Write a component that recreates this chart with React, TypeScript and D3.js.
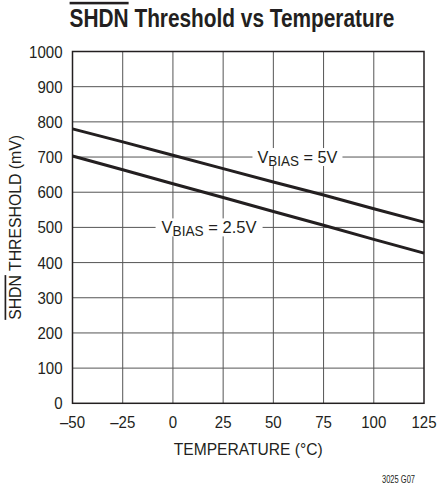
import * as React from 'react';
import { useEffect, useRef } from 'react';
import * as d3 from 'd3';

const temps = [-50, -25, 0, 25, 50, 75, 100, 125];
const vbias5 = [780, 743, 705, 667, 629, 592, 553, 515];
const vbias25 = [703, 664, 624, 585, 545, 506, 466, 427];
const xTicks = [-50, -25, 0, 25, 50, 75, 100, 125];
const yTicks = [0, 100, 200, 300, 400, 500, 600, 700, 800, 900, 1000];

const FONT = '"Liberation Sans", Arial, sans-serif';
const INK = '#231f20';

type Sel = d3.Selection<any, unknown, null, undefined>;

// text squeezed horizontally to look like a condensed face
function condText(parent: Sel, x: number, y: number, anchor: string, size: number, sx: number, weight = 'normal') {
  const g = parent.append('g').attr('transform', `translate(${x},${y}) scale(${sx},1)`);
  return g.append('text')
    .attr('x', 0).attr('y', 0)
    .attr('text-anchor', anchor)
    .attr('font-family', FONT).attr('font-size', size).attr('font-weight', weight)
    .attr('fill', INK);
}

// squeeze a text to a given width
function fitWidth(t: d3.Selection<SVGTextElement, unknown, null, undefined>, target: number) {
  const node = t.node();
  if (!node) return;
  const w = node.getComputedTextLength();
  const g = d3.select(node.parentNode as SVGGElement);
  const tr = g.attr('transform').replace(/scale\([^)]*\)/, '');
  g.attr('transform', `${tr} scale(${target / w},1)`);
}

export default function App() {
  const node = useRef<SVGSVGElement | null>(null);

  useEffect(() => {
    if (!node.current) return;
    const width = 440, height = 489;
    const left = 72.5, right = 424, top = 51.5, bottom = 403.3;

    const x = d3.scaleLinear().domain([-50, 125]).range([left, right]);
    const y = d3.scaleLinear().domain([0, 1000]).range([bottom, top]);

    const svg = d3.select(node.current);
    svg.selectAll('*').remove();
    svg.attr('width', width).attr('height', height).style('display', 'block');

    svg.append('rect').attr('width', width).attr('height', height).attr('fill', '#fff');

    // grid
    const grid = svg.append('g').attr('stroke', '#555').attr('stroke-width', 1);
    xTicks.slice(1, -1).forEach(t => {
      grid.append('line').attr('x1', x(t)).attr('x2', x(t)).attr('y1', top).attr('y2', bottom);
    });
    yTicks.slice(1, -1).forEach(t => {
      grid.append('line').attr('x1', left).attr('x2', right).attr('y1', y(t)).attr('y2', y(t));
    });

    // frame
    svg.append('rect')
      .attr('x', left).attr('y', top)
      .attr('width', right - left).attr('height', bottom - top)
      .attr('fill', 'none').attr('stroke', INK).attr('stroke-width', 1.5);

    // curves
    const lineF = d3.line<number>()
      .x((d, i) => x(temps[i]))
      .y(d => y(d));
    [vbias5, vbias25].forEach(s => {
      svg.append('path')
        .attr('d', lineF(s))
        .attr('fill', 'none')
        .attr('stroke', INK)
        .attr('stroke-width', 3);
    });

    // series labels with white knockout
    const labels = [
      { temp: 62, val: 700, sub: '= 5V', w: 90, tw: 80 },
      { temp: 18, val: 500, sub: '= 2.5V', w: 107, tw: 95 },
    ];
    labels.forEach(l => {
      const cx = x(l.temp), cy = y(l.val);
      svg.append('rect')
        .attr('x', cx - l.w / 2).attr('y', cy - 9)
        .attr('width', l.w).attr('height', 18)
        .attr('fill', '#fff');
      const t = condText(svg, cx, cy + 6, 'middle', 17, 0.9);
      t.append('tspan').text('V');
      t.append('tspan').attr('font-size', 14).attr('dy', 3).text('BIAS');
      t.append('tspan').attr('dy', -3).text(' ' + l.sub);
      fitWidth(t, l.tw);
    });

    // tick labels
    yTicks.forEach(d => {
      condText(svg, left - 10, y(d) + 6, 'end', 16.7, 0.9).text(String(d));
    });
    xTicks.forEach(d => {
      condText(svg, x(d), bottom + 25, 'middle', 16.7, 0.9)
        .text(d < 0 ? '\u2013' + Math.abs(d) : String(d));
    });

    // axis titles
    const xt = condText(svg, (left + right) / 2, bottom + 52, 'middle', 16.7, 0.9).text('TEMPERATURE (°C)');
    fitWidth(xt, 149);

    const yg = svg.append('g').attr('transform', `translate(21,${(top + bottom) / 2}) rotate(-90)`);
    const yt = condText(yg, 0, 0, 'middle', 16.7, 0.9);
    yt.append('tspan').attr('text-decoration', 'overline').text('SHDN');
    yt.append('tspan').text(' THRESHOLD (mV)');
    fitWidth(yt, 185);

    // title
    const tt = condText(svg, 232, 27, 'middle', 25.5, 0.85, 'bold');
    tt.append('tspan').attr('text-decoration', 'overline').text('SHDN');
    tt.append('tspan').text(' Threshold vs Temperature');
    fitWidth(tt, 325);

    const fn = condText(svg, 415, 483, 'end', 10.5, 0.8).text('3025 G07');
    fitWidth(fn, 33);
  }, []);

  return <svg ref={node} style={{ position: 'absolute', left: 0, top: 0 }} />;
}
